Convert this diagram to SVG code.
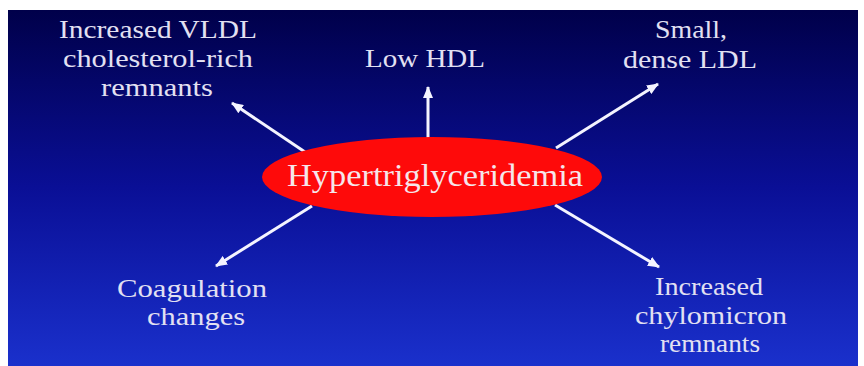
<svg xmlns="http://www.w3.org/2000/svg" width="864" height="366" viewBox="0 0 864 366">
<defs>
<linearGradient id="bg" x1="0" y1="0" x2="0" y2="1">
<stop offset="0" stop-color="#00004a"/>
<stop offset="0.5" stop-color="#0a0f96"/>
<stop offset="1" stop-color="#1a30cc"/>
</linearGradient>
<marker id="ah" viewBox="0 0 12 10" refX="11" refY="5" markerWidth="12" markerHeight="10" markerUnits="userSpaceOnUse" orient="auto">
<path d="M0,0 L12,5 L0,10 Z" fill="#f4f4ff"/>
</marker>
<style>
.lbl{font-family:"Liberation Serif","Times New Roman",serif;font-size:25px;fill:#e2e0f2;text-anchor:middle}
.conn line{stroke:#f4f4ff;stroke-width:3;marker-end:url(#ah)}
</style>
</defs>
<rect x="0" y="0" width="864" height="366" fill="#ffffff"/>
<rect x="8" y="10" width="850" height="356" fill="url(#bg)"/>
<g id="connectors" class="conn">
<line x1="428" y1="140" x2="428" y2="87"/>
<line x1="305" y1="152" x2="232" y2="103"/>
<line x1="556" y1="148" x2="658" y2="84"/>
<line x1="312" y1="206" x2="216" y2="266"/>
<line x1="555" y1="205" x2="659" y2="267"/>
</g>
<g id="center">
<ellipse cx="432" cy="177" rx="170" ry="40" fill="#fe0a0a"/>
<text class="lbl" x="435" y="186" textLength="296" lengthAdjust="spacingAndGlyphs" style="font-size:32px;fill:#f6e6ea">Hypertriglyceridemia</text>
</g>
<g id="vldl">
<text class="lbl" x="158" y="38" textLength="198" lengthAdjust="spacingAndGlyphs">Increased VLDL</text>
<text class="lbl" x="158" y="67" textLength="190" lengthAdjust="spacingAndGlyphs">cholesterol-rich</text>
<text class="lbl" x="157" y="96" textLength="112" lengthAdjust="spacingAndGlyphs">remnants</text>
</g>
<g id="hdl">
<text class="lbl" x="425" y="67" textLength="120" lengthAdjust="spacingAndGlyphs">Low HDL</text>
</g>
<g id="ldl">
<text class="lbl" x="691" y="38" textLength="72" lengthAdjust="spacingAndGlyphs">Small,</text>
<text class="lbl" x="690" y="68" textLength="134" lengthAdjust="spacingAndGlyphs">dense LDL</text>
</g>
<g id="coag">
<text class="lbl" x="192" y="297" textLength="150" lengthAdjust="spacingAndGlyphs">Coagulation</text>
<text class="lbl" x="196" y="325" textLength="98" lengthAdjust="spacingAndGlyphs">changes</text>
</g>
<g id="chylo">
<text class="lbl" x="709" y="295" textLength="108" lengthAdjust="spacingAndGlyphs">Increased</text>
<text class="lbl" x="711" y="324" textLength="152" lengthAdjust="spacingAndGlyphs">chylomicron</text>
<text class="lbl" x="710" y="352" textLength="100" lengthAdjust="spacingAndGlyphs">remnants</text>
</g>
</svg>
